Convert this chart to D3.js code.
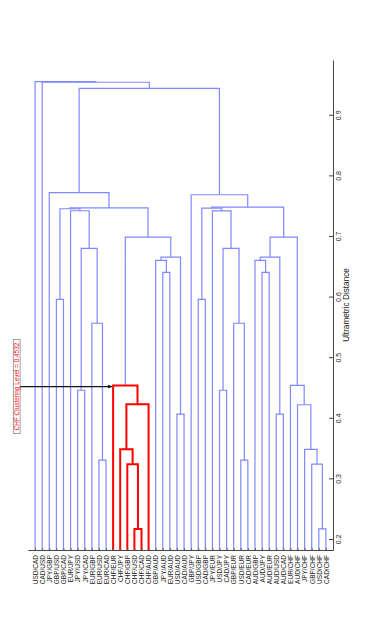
<!DOCTYPE html>
<html>
<head>
<meta charset="utf-8">
<script src="https://d3js.org/d3.v7.min.js"></script>
<style>
  body { margin: 0; background: #fff; }
  svg { display: block; font-family: "Liberation Sans", Arial, sans-serif; }
</style>
</head>
<body>
<script>

// Leaf labels, in the order they sit along the leaf axis
var leafLabels = [
  "USD/CAD", "CAD/USD", "JPY/GBP", "GBP/USD", "GBP/CAD", "EUR/JPY", "JPY/USD",
  "JPY/CAD", "EUR/GBP", "EUR/USD", "EUR/CAD", "CHF/EUR", "CHF/JPY", "CHF/GBP",
  "CHF/USD", "CHF/CAD", "CHF/AUD", "GBP/AUD", "JPY/AUD", "EUR/AUD", "USD/AUD",
  "CAD/AUD", "GBP/JPY", "USD/GBP", "CAD/GBP", "JPY/EUR", "USD/JPY", "CAD/JPY",
  "GBP/EUR", "USD/EUR", "CAD/EUR", "AUD/GBP", "AUD/JPY", "AUD/EUR", "AUD/USD",
  "AUD/CAD", "EUR/CHF", "AUD/CHF", "JPY/CHF", "GBP/CHF", "USD/CHF", "CAD/CHF"
];

// Linkage rows [child a, child b, distance]
// child ids 0..41 are leaves, 42 + k is the cluster made in row k
var linkRows = [
  [14, 15, 0.2165], [40, 41, 0.2165], [13, 42, 0.3235], [39, 43, 0.3235],
  [9, 10, 0.330],   [29, 30, 0.330],  [12, 44, 0.348],  [38, 45, 0.348],
  [20, 21, 0.406],  [34, 35, 0.406],  [48, 16, 0.4225], [37, 49, 0.4215],
  [6, 7, 0.4454],   [26, 27, 0.4454], [11, 52, 0.4532], [36, 53, 0.4535],
  [8, 46, 0.556],   [28, 47, 0.556],  [3, 4, 0.5955],   [23, 24, 0.5955],
  [18, 19, 0.640],  [32, 33, 0.640],  [17, 62, 0.6596], [31, 63, 0.6596],
  [64, 50, 0.665],  [65, 51, 0.665],  [54, 58, 0.6797], [55, 59, 0.6797],
  [56, 66, 0.698],  [67, 57, 0.698],  [5, 68, 0.7416],  [25, 69, 0.7413],
  [60, 72, 0.7449], [61, 73, 0.746],  [74, 70, 0.7465], [75, 71, 0.7475],
  [2, 76, 0.7715],  [22, 77, 0.768],  [78, 79, 0.9437], [1, 80, 0.9537],
  [0, 81, 0.9548]
];

var distTicks = [0.2, 0.3, 0.4, 0.5, 0.6, 0.7, 0.8, 0.9];
var axisTitle = "Ultrametric Distance";
var cutLevel = 0.4532;
var cutLabel = "CHF Clustering Level = " + cutLevel;
var highlightPrefix = "CHF/";

var svgWidth = 374;
var svgHeight = 634;

var svg = d3.select("body")
    .append("svg")
    .attr("width", svgWidth)
    .attr("height", svgHeight);

// leaves run along x, distance runs up the page
var xScale = d3.scaleLinear()
    .domain([0, leafLabels.length + 1])
    .range([28, 333]);

var yScale = d3.scaleLinear()
    .domain([0.1818, 0.9904])
    .range([550, 60]);

var baseDist = yScale.domain()[0];

// build the node list from the linkage rows
var nodes = leafLabels.map(function (lab, i) {
  return {x: xScale(i + 1), h: baseDist, leaves: [lab]};
});
linkRows.forEach(function (r) {
  var a = nodes[r[0]], b = nodes[r[1]];
  nodes.push({
    x: (a.x + b.x) / 2, h: r[2], a: a, b: b,
    leaves: a.leaves.concat(b.leaves)
  });
});
var clusters = nodes.slice(leafLabels.length);
clusters.forEach(function (d) {
  d.red = d.leaves.every(function (l) { return l.indexOf(highlightPrefix) === 0; });
});

function linkPath(d) {
  return "M" + d.a.x + "," + yScale(d.a.h) +
      "V" + yScale(d.h) + "H" + d.b.x + "V" + yScale(d.b.h);
}

// blue links first, red cluster on top
svg.append("g")
    .selectAll("path")
    .data(clusters.filter(function (d) { return !d.red; }))
    .enter()
    .append("path")
    .attr("d", linkPath)
    .attr("fill", "none")
    .attr("stroke", "#8088ff")
    .attr("stroke-width", 1.2);

svg.append("g")
    .selectAll("path")
    .data(clusters.filter(function (d) { return d.red; }))
    .enter()
    .append("path")
    .attr("d", linkPath)
    .attr("fill", "none")
    .attr("stroke", "#ff0000")
    .attr("stroke-width", 2);

// leaf axis along the bottom
var leafAxis = d3.axisBottom(xScale)
    .tickValues(d3.range(1, leafLabels.length + 1))
    .tickFormat(function (i) { return leafLabels[i - 1]; })
    .tickSizeInner(-2)
    .tickSizeOuter(0);

var leafG = svg.append("g")
    .attr("transform", "translate(0,550)")
    .call(leafAxis);
leafG.select(".domain").attr("stroke", "#444");
leafG.selectAll(".tick line").attr("stroke", "#666");
leafG.selectAll(".tick text")
    .attr("y", 0)
    .attr("dy", null)
    .attr("text-anchor", "end")
    .attr("transform", "translate(2.3,5) rotate(-90)")
    .attr("font-size", "6.5px")
    .attr("fill", "#222");

// distance axis on the right
var distAxis = d3.axisRight(yScale)
    .tickValues(distTicks)
    .tickFormat(d3.format(".1f"))
    .tickSizeInner(-4)
    .tickSizeOuter(0);

var distG = svg.append("g")
    .attr("transform", "translate(333,0)")
    .call(distAxis);
distG.select(".domain").attr("stroke", "#444");
distG.selectAll(".tick line").attr("stroke", "#444");
distG.selectAll(".tick text")
    .attr("x", 0)
    .attr("dy", null)
    .attr("text-anchor", "middle")
    .attr("transform", "translate(8,0) rotate(-90)")
    .attr("font-size", "7px")
    .attr("fill", "#222");

svg.append("text")
    .attr("transform", "translate(348.5," + (yScale.range()[0] + yScale.range()[1]) / 2 + ") rotate(-90)")
    .attr("text-anchor", "middle")
    .attr("font-size", "8.2px")
    .attr("fill", "#222")
    .text(axisTitle);

// cut level note with arrow to the red cluster
var redTop = clusters.filter(function (d) { return d.red; })
    .sort(function (a, b) { return b.h - a.h; })[0];
var cutY = yScale(cutLevel);

svg.append("defs")
    .append("marker")
    .attr("id", "arrowHead")
    .attr("viewBox", "0 0 10 10")
    .attr("refX", 10)
    .attr("refY", 5)
    .attr("markerWidth", 5)
    .attr("markerHeight", 4)
    .attr("markerUnits", "userSpaceOnUse")
    .attr("orient", "auto")
    .append("path")
    .attr("d", "M0,0L10,5L0,10Z")
    .attr("fill", "#111");

svg.append("line")
    .attr("x1", 20)
    .attr("y1", cutY + 1)
    .attr("x2", redTop.a.x - 1)
    .attr("y2", cutY + 1)
    .attr("stroke", "#111")
    .attr("stroke-width", 1.2)
    .attr("marker-end", "url(#arrowHead)");

var noteG = svg.append("g")
    .attr("transform", "translate(16.7," + (cutY + 1) + ") rotate(-90)");

noteG.append("rect")
    .attr("x", -47)
    .attr("y", -3.4)
    .attr("width", 94)
    .attr("height", 6.8)
    .attr("fill", "#fff")
    .attr("stroke", "#888")
    .attr("stroke-width", 0.8);

noteG.append("text")
    .attr("x", 0)
    .attr("y", 2.3)
    .attr("text-anchor", "middle")
    .attr("font-size", "6.4px")
    .attr("fill", "#ff0000")
    .text(cutLabel);

</script>
</body>
</html>
